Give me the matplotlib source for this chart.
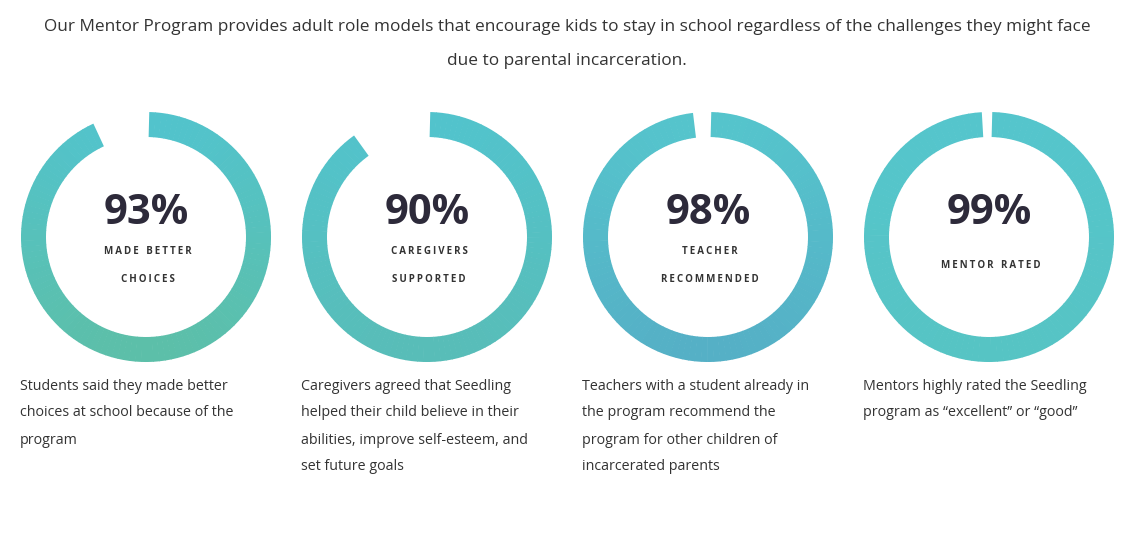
import numpy as np
import matplotlib.pyplot as plt
from matplotlib.patches import Wedge
from matplotlib.colors import to_rgb

plt.rcParams['font.family'] = 'Open Sans'

title_lines = ["Our Mentor Program provides adult role models that encourage kids to stay in school regardless of the challenges they might face",
               "due to parental incarceration."]
percents = [93, 90, 98, 99]
labels = [["MADE BETTER", "CHOICES"], ["CAREGIVERS", "SUPPORTED"],
          ["TEACHER", "RECOMMENDED"], ["MENTOR RATED"]]
descs = [["Students said they made better", "choices at school because of the", "program"],
         ["Caregivers agreed that Seedling", "helped their child believe in their", "abilities, improve self-esteem, and", "set future goals"],
         ["Teachers with a student already in", "the program recommend the", "program for other children of", "incarcerated parents"],
         ["Mentors highly rated the Seedling", "program as \u201cexcellent\u201d or \u201cgood\u201d"]]
# gradient ends per ring (top, bottom)
grad = [("#52c3cc", "#5cbfa9"), ("#52c3cc", "#58bdb8"), ("#55c4cc", "#55b0c6"), ("#55c5cc", "#56c4c4")]

fig = plt.figure(figsize=(11.4, 5.46), dpi=100)
ax = fig.add_axes([0, 0, 1, 1])
ax.set_xlim(0, 1140)
ax.set_ylim(546, 0)
ax.axis('off')

ax.text(567, 27, title_lines[0], ha='center', va='center', fontsize=12.4, color='#333333')
ax.text(567, 61, title_lines[1], ha='center', va='center', fontsize=12.4, color='#333333')

def spaced(s):
    return '\u2009'.join(s).replace('\u2009 \u2009', '   ')

cx0, step, cy, r_out, width = 146, 281, 237, 125, 25
for i, p in enumerate(percents):
    cx = cx0 + i * step
    c1, c2 = np.array(to_rgb(grad[i][0])), np.array(to_rgb(grad[i][1]))
    n = 120
    # arc from 12 o'clock clockwise; y axis is inverted so angles increase clockwise visually
    start, end = -90 + 1.5, -90 + 360 * p / 100
    angs = np.linspace(start, end, n + 1)
    for a0, a1 in zip(angs[:-1], angs[1:]):
        am = np.deg2rad((a0 + a1) / 2)
        t = (np.sin(am) + 1) / 2  # 0 top, 1 bottom
        ax.add_patch(Wedge((cx, cy), r_out, a0, a1 + 0.3, width=width,
                           color=c1 * (1 - t) + c2 * t, lw=0))
    ax.text(cx, 214, f"{p}%", ha='center', va='center', fontsize=30,
            fontweight='bold', color='#2d2a3a')
    lab = labels[i]
    ys = [252, 279] if len(lab) == 2 else [265]
    for y, s in zip(ys, lab):
        ax.text(cx + 2, y, spaced(s), ha='center', va='center', fontsize=7,
                fontweight='bold', color='#333333')
    x0 = 20 + i * step
    for j, line in enumerate(descs[i]):
        ax.text(x0, 386 + 27 * j, line, ha='left', va='center', fontsize=10.3, color='#333333')

fig.savefig('out.png', dpi=100, facecolor='white')
